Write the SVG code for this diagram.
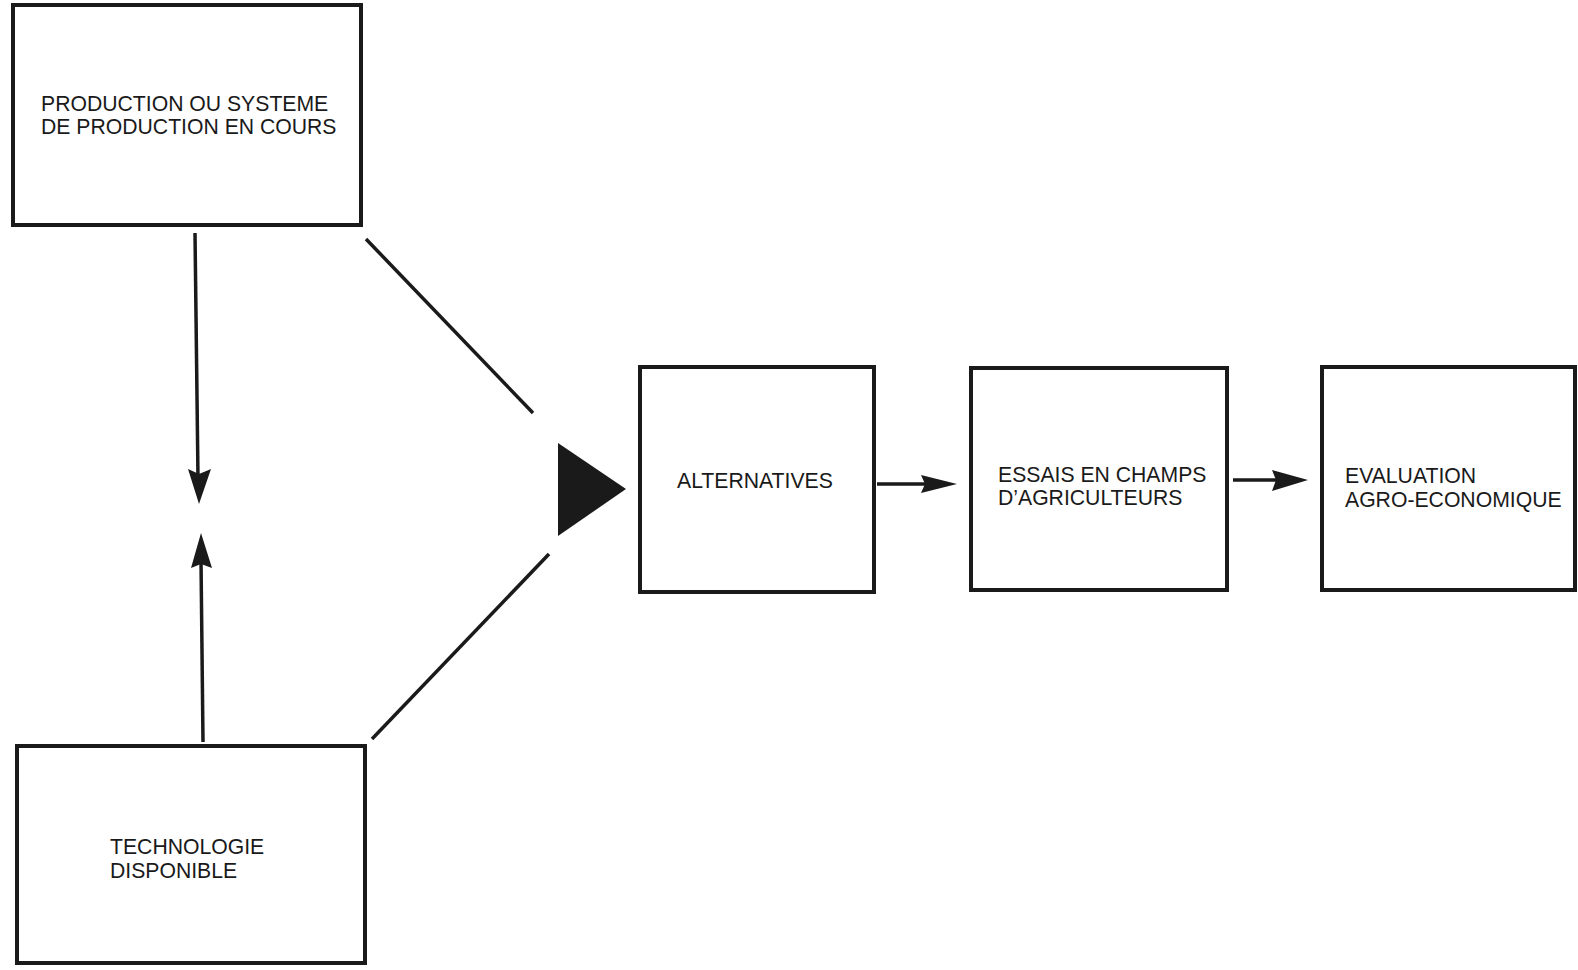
<svg xmlns="http://www.w3.org/2000/svg" width="1578" height="970" viewBox="0 0 1578 970">
<defs>
<style>
.box{fill:none;stroke:#1a1a1a;stroke-width:4}
.t{font-family:"Liberation Sans",Arial,sans-serif;font-size:21.2px;fill:#1a1a1a}
.ln{stroke:#1a1a1a;stroke-width:3.5;fill:none}
.hd{fill:#1a1a1a}
</style>
</defs>
<rect width="1578" height="970" fill="#ffffff"/>
<g id="connectors">
<line class="ln" x1="195" y1="233" x2="198" y2="478"/>
<polygon class="hd" points="188,469 199,474 211,469 199,504"/>
<line class="ln" x1="203" y1="742" x2="201" y2="560"/>
<polygon class="hd" points="191,568 201,564 212,568 201,533"/>
<line class="ln" x1="366" y1="239" x2="533" y2="413"/>
<line class="ln" x1="372" y1="739" x2="549" y2="554"/>
<polygon class="hd" points="558,443 558,536 626,489"/>
<line class="ln" x1="877" y1="484" x2="930" y2="484" stroke-width="5"/>
<polygon class="hd" points="921,475 925,484 921,493 957,484"/>
<line class="ln" x1="1233" y1="480" x2="1285" y2="480" stroke-width="5"/>
<polygon class="hd" points="1272,470 1276,480 1272,491 1308,480"/>
</g>
<g id="n-production">
<rect class="box" x="13" y="5" width="348" height="220"/>
<text class="t" x="41" y="111">PRODUCTION OU SYSTEME</text>
<text class="t" x="41" y="134">DE PRODUCTION EN COURS</text>
</g>
<g id="n-technologie">
<rect class="box" x="17" y="746" width="348" height="217"/>
<text class="t" x="110" y="854">TECHNOLOGIE</text>
<text class="t" x="110" y="878">DISPONIBLE</text>
</g>
<g id="n-alternatives">
<rect class="box" x="640" y="367" width="234" height="225"/>
<text class="t" x="677" y="488">ALTERNATIVES</text>
</g>
<g id="n-essais">
<rect class="box" x="971" y="368" width="256" height="222"/>
<text class="t" x="998" y="482">ESSAIS EN CHAMPS</text>
<text class="t" x="998" y="505">D’AGRICULTEURS</text>
</g>
<g id="n-evaluation">
<rect class="box" x="1322" y="367" width="253" height="223"/>
<text class="t" x="1345" y="483">EVALUATION</text>
<text class="t" x="1345" y="507">AGRO-ECONOMIQUE</text>
</g>
</svg>
